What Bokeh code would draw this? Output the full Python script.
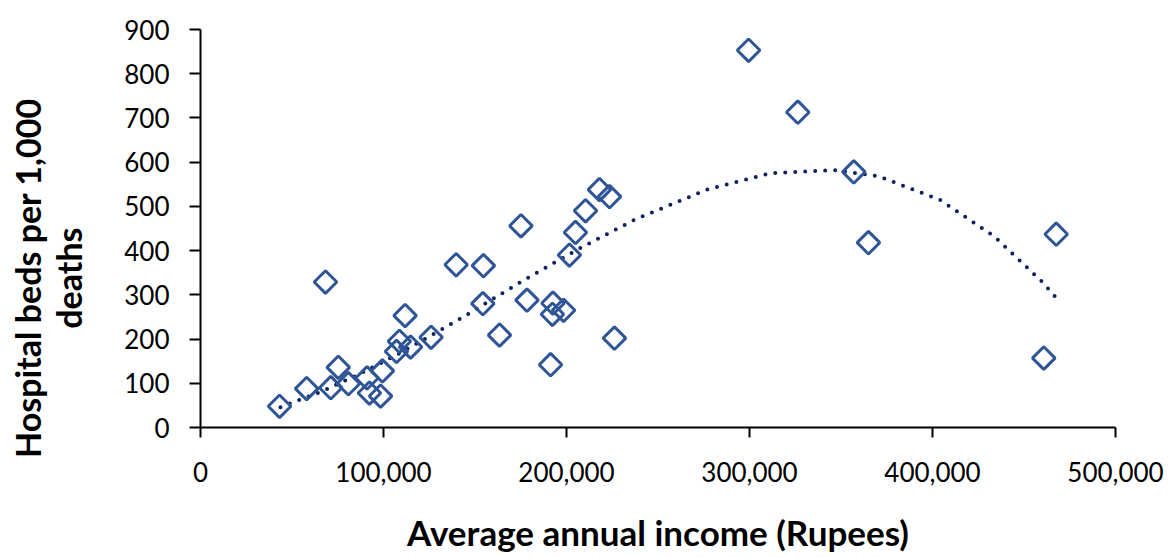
import numpy as np
from bokeh.plotting import figure
from bokeh.models import Range1d, FixedTicker, NumeralTickFormatter, ColumnDataSource
from bokeh.embed import file_html
from bokeh.resources import INLINE

# Data
income = [43200, 58000, 71200, 68300, 75300, 80800, 91000, 92300, 98400, 99400,
          108700, 107100, 114800, 111800, 126000, 139700, 154600, 154300, 163400,
          175100, 178400, 191300, 192600, 192300, 198400, 201600, 204900, 210400,
          218000, 223500, 226200, 299500, 326400, 357000, 365000, 467600, 460800]
beds = [48, 88, 90, 329, 136, 99, 112, 78, 71, 128,
        195, 172, 182, 253, 204, 368, 366, 280, 209,
        456, 288, 142, 281, 256, 265, 390, 441, 490,
        538, 522, 202, 853, 713, 578, 418, 437, 157]

# Polynomial trendline, values
trend_income = [43700, 65950, 87400, 108900, 129700, 144800, 175800, 206700, 238300,
                276900, 311500, 347000, 370600, 404000, 433500, 459500, 467600]
trend_beds = [46, 81, 122, 168, 217, 253, 331, 404, 472,
              538, 575, 582, 568, 515, 433, 331, 293]

x_ticks = [0, 100000, 200000, 300000, 400000, 500000]
y_ticks = [0, 100, 200, 300, 400, 500, 600, 700, 800, 900]
y_title_lines = ["Hospital beds per 1,000", "deaths"]
x_title = "Average annual income (Rupees)"

FONT = "Lato"

p = figure(width=1168, height=556, output_backend="svg", toolbar_location=None,
           x_range=Range1d(0, 500000), y_range=Range1d(0, 900),
           min_border_left=200, min_border_right=53, min_border_top=29, min_border_bottom=129)
p.outline_line_color = None
p.grid.visible = False
p.background_fill_color = "white"
p.border_fill_color = "white"

p.line(trend_income, trend_beds, line_color="#0b2160", line_width=4,
       line_dash="0 10", line_cap="round", line_join="round")

src = ColumnDataSource(dict(x=income, y=beds))
p.scatter("x", "y", source=src, marker="square", size=16, angle=np.pi / 4,
          fill_color=None, line_color="#2F5597", line_width=3)

xa = p.xaxis[0]
xa.ticker = FixedTicker(ticks=x_ticks)
xa.formatter = NumeralTickFormatter(format="0,0")
xa.minor_tick_line_color = None
xa.major_tick_in = 0
xa.major_tick_out = 10
xa.axis_line_width = 2
xa.major_tick_line_width = 2
xa.axis_line_color = "black"
xa.major_tick_line_color = "black"
xa.major_label_text_font = FONT
xa.major_label_text_font_size = "26px"
xa.major_label_text_color = "black"
xa.major_label_standoff = 24
xa.axis_label = x_title
xa.axis_label_text_font = FONT
xa.axis_label_text_font_style = "bold"
xa.axis_label_text_font_size = "35px"
xa.axis_label_text_color = "black"
xa.axis_label_standoff = 26

ya = p.yaxis[0]
ya.ticker = FixedTicker(ticks=y_ticks)
ya.minor_tick_line_color = None
ya.major_tick_in = 0
ya.major_tick_out = 11
ya.axis_line_width = 2
ya.major_tick_line_width = 2
ya.axis_line_color = "black"
ya.major_tick_line_color = "black"
ya.major_label_text_font = FONT
ya.major_label_text_font_size = "26px"
ya.major_label_text_color = "black"
ya.major_label_standoff = 20
# trailing no-break spaces nudge the centred title down, as in the reference
pad = "\u00a0" * 12
ya.axis_label = "\n".join(line + pad for line in y_title_lines)
ya.axis_label_text_font = FONT
ya.axis_label_text_font_style = "bold"
ya.axis_label_text_font_size = "34px"
ya.axis_label_text_line_height = 1.0
ya.axis_label_text_color = "black"
ya.axis_label_standoff = 32

open("out.html", "w").write(file_html(p, INLINE))
